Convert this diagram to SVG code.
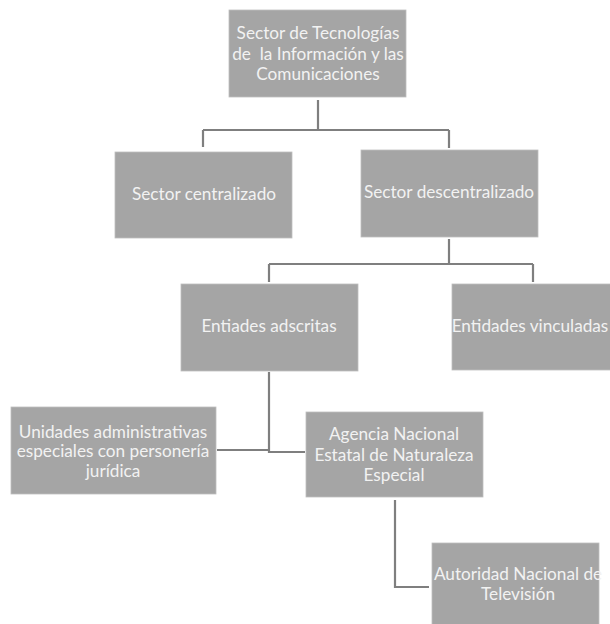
<svg xmlns="http://www.w3.org/2000/svg" width="610" height="624" viewBox="0 0 610 624">
<style>
.box{fill:#a5a5a5;stroke:#bfbfbf;stroke-width:0.8}
.t{font-family:Lato,"Open Sans","Liberation Sans",sans-serif;font-size:17.2px;fill:#f2f2f2;text-anchor:middle}
.c{fill:none;stroke:#7f7f7f;stroke-width:2.2}
</style>
<rect width="610" height="624" fill="#ffffff"/>
<g id="connectors">
<path class="c" d="M318 100V130M203 130H449M203 130V147M449 130V148"/>
<path class="c" d="M449 239V264M269 264H533M269 264V282M533 264V282"/>
<path class="c" d="M269 372V452H305M217 450H269"/>
<path class="c" d="M395 500V587H429"/>
</g>
<g id="n1"><rect class="box" x="229" y="10" width="177" height="87"/>
<text class="t" x="318" y="39">Sector de Tecnologías</text>
<text class="t" x="318" y="60" xml:space="preserve">de  la Información y las</text>
<text class="t" x="318" y="80">Comunicaciones</text></g>
<g id="n2"><rect class="box" x="115" y="152" width="177" height="86"/>
<text class="t" x="204" y="200">Sector centralizado</text></g>
<g id="n3"><rect class="box" x="361" y="150" width="177" height="87"/>
<text class="t" x="449" y="198">Sector descentralizado</text></g>
<g id="n4"><rect class="box" x="181" y="284" width="177" height="87"/>
<text class="t" x="269" y="332">Entiades adscritas</text></g>
<g id="n5"><rect class="box" x="452" y="284" width="177" height="86"/>
<text class="t" x="530" y="332">Entidades vinculadas</text></g>
<g id="n6"><rect class="box" x="11" y="407" width="205" height="87"/>
<text class="t" x="113" y="438">Unidades administrativas</text>
<text class="t" x="113" y="457">especiales con personería</text>
<text class="t" x="113" y="477">jurídica</text></g>
<g id="n7"><rect class="box" x="306" y="412" width="177" height="85"/>
<text class="t" x="394" y="440">Agencia Nacional</text>
<text class="t" x="394" y="461">Estatal de Naturaleza</text>
<text class="t" x="394" y="481">Especial</text></g>
<g id="n8"><rect class="box" x="432" y="543" width="167" height="84"/>
<text class="t" x="518" y="580">Autoridad Nacional de</text>
<text class="t" x="518" y="600">Televisión</text></g>
</svg>
